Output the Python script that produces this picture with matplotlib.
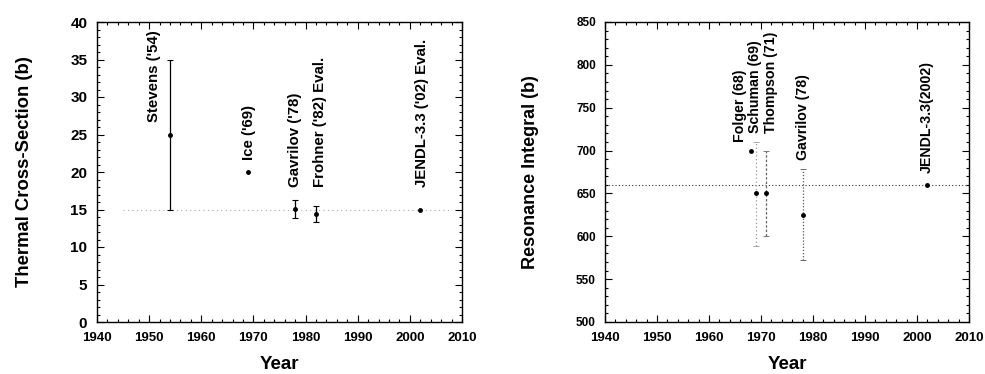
import matplotlib
matplotlib.use("Agg")
import matplotlib.pyplot as plt
from matplotlib.ticker import MultipleLocator

plt.rcParams['font.family'] = ['Liberation Sans', 'DejaVu Sans']
plt.rcParams['font.weight'] = 'bold'

# Left panel: thermal cross-section
th_labels = ["Stevens ('54)", "Ice ('69)", "Gavrilov ('78)", "Frohner ('82) Eval.", "JENDL-3.3 ('02) Eval."]
th_year = [1954, 1969, 1978, 1982, 2002]
th_val = [25.0, 20.0, 15.1, 14.4, 15.0]
th_err = [10.0, 0.0, 1.2, 1.1, 0.0]
th_lab_x = [1951, 1969.2, 1978, 1982.8, 2002.3]
th_lab_y = [26.7, 21.6, 18.0, 18.0, 18.0]
th_ref = 15.0

# Right panel: resonance integral
ri_labels = ["Folger (68)", "Schuman (69)", "Thompson (71)", "Gavrilov (78)", "JENDL-3.3(2002)"]
ri_year = [1968, 1969, 1971, 1978, 2002]
ri_val = [700, 650, 650, 625, 660]
ri_lo = [0, 61, 50, 53, 0]
ri_hi = [0, 60, 50, 53, 0]
ri_lab_x = [1966, 1968.8, 1972, 1978, 2001.8]
ri_lab_y = [710, 720, 720, 689, 674]
ri_ref = 660

fig = plt.figure(figsize=(9.85, 3.74), dpi=100)
ax1 = fig.add_axes([97/985, 52/374, 365/985, 300/374])
ax2 = fig.add_axes([605/985, 52/374, 364/985, 300/374])

def style(ax, ymaj, ymin, ysize, ypad):
    ax.set_xlim(1940, 2010)
    ax.xaxis.set_major_locator(MultipleLocator(10))
    ax.xaxis.set_minor_locator(MultipleLocator(2))
    ax.yaxis.set_major_locator(MultipleLocator(ymaj))
    ax.yaxis.set_minor_locator(MultipleLocator(ymin))
    ax.tick_params(which='both', direction='in', top=True, right=True, width=0.8)
    ax.tick_params(which='major', length=5)
    ax.tick_params(which='minor', length=2.5)
    ax.tick_params(axis='x', labelsize=9.5, pad=7)
    ax.tick_params(axis='y', labelsize=ysize, pad=ypad)
    for s in ax.spines.values():
        s.set_linewidth(1.0)
    ax.set_xlabel("Year", fontsize=13.5, fontweight='bold', labelpad=9)

# Left
style(ax1, 5, 1, 11, 7)
ax1.set_ylim(0, 40)
ax1.plot([1945, 2008], [th_ref, th_ref], linestyle=(0, (1, 3)), color='#aaaaaa', lw=0.8)
for x, y, e in zip(th_year, th_val, th_err):
    if e > 0:
        ax1.errorbar([x], [y], yerr=[e], fmt='o', ms=2.5, color='black', ecolor='black',
                     elinewidth=0.9, capsize=2, capthick=0.8)
    else:
        ax1.plot([x], [y], 'o', ms=2.5, color='black')
for t, x, y in zip(th_labels, th_lab_x, th_lab_y):
    ax1.text(x, y, t, rotation=90, ha='center', va='bottom', fontsize=10.8, fontweight='bold')
ax1.set_ylabel("Thermal Cross-Section (b)", fontsize=13.3, fontweight='bold', labelpad=27)

# Right
style(ax2, 50, 10, 8.5, 6.5)
ax2.set_ylim(500, 850)
ax2.axhline(ri_ref, linestyle=(0, (1, 2)), color='#333333', lw=0.8)
estyles = [None, (0, (1, 2)), (0, (2, 1.5)), (0, (1, 1.5))]
ecolors = [None, '#999999', '#666666', '#555555']
for i, (x, y, lo, hi) in enumerate(zip(ri_year, ri_val, ri_lo, ri_hi)):
    if lo > 0:
        eb = ax2.errorbar([x], [y], yerr=[[lo], [hi]], fmt='none', ecolor=ecolors[i],
                          elinewidth=0.9, capsize=2, capthick=0.6)
        eb[2][0].set_linestyle(estyles[i])
    ax2.plot([x], [y], 'o', ms=2.5, color='black')
for t, x, y in zip(ri_labels, ri_lab_x, ri_lab_y):
    ax2.text(x, y, t, rotation=90, ha='center', va='bottom', fontsize=10.2, fontweight='bold')
ax2.set_ylabel("Resonance Integral (b)", fontsize=13, fontweight='bold', labelpad=27)

fig.savefig("out.png", dpi=100)
